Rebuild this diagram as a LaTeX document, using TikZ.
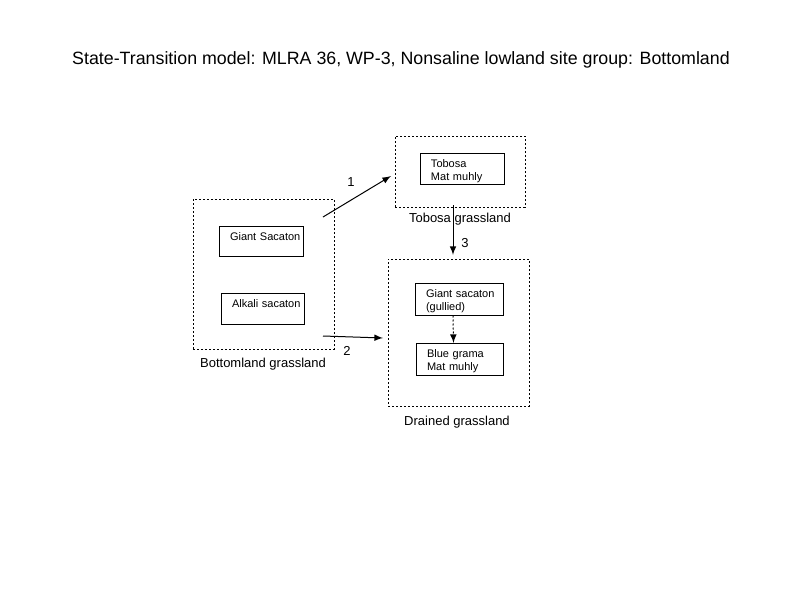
\documentclass[tikz,border=0pt]{standalone}
\usepackage{fontspec}
\setmainfont{Liberation Sans}
\usetikzlibrary{arrows}

\tikzset{
  StateStyle/.style = {draw, dash pattern=on 1pt off 1pt, line width=0.5pt, inner sep=0pt},
  PhaseStyle/.style 2 args = {draw, line width=0.5pt, align=left, inner xsep=1pt, inner ysep=0pt,
    text width=#1-2pt, text height=7.2pt, text depth=#2-7.2pt,
    execute at begin node={\leftskip=4.5pt\hyphenpenalty=10000},
    font=\fontsize{5.5}{6.5}\selectfont},
  LabelStyle/.style = {font=\fontsize{6.5}{8}\selectfont},
  TransStyle/.style = {->, >=latex, line width=0.5pt}
}

\begin{document}
\begin{tikzpicture}[x=0.5pt,y=-0.5pt]
          \fill[white] (0,0) rectangle (800,600);
          \node[font=\fontsize{8.9}{10}\selectfont] (title) at (401,60)
            {State-Transition model: MLRA 36, WP-3, Nonsaline lowland site group: Bottomland};

          % states
          \node[StateStyle, minimum width=70.5pt, minimum height=75pt]   (bottom) at (263.5,274) {};
          \node[StateStyle, minimum width=65pt,   minimum height=35.5pt] (tobosa) at (460,171.5) {};
          \node[StateStyle, minimum width=70.5pt, minimum height=73.5pt] (drained) at (458.5,332.5) {};

          \node[LabelStyle] (bottomlab) at (263,364) {Bottomland grassland};
          \node[LabelStyle] (tobosalab) at (460,219) {Tobosa grassland};
          \node[LabelStyle] (drainedlab) at (457,422) {Drained grassland};

          % communities
          \node[PhaseStyle={42pt}{15pt}] (gs) at (261,241) {Giant Sacaton};
          \node[PhaseStyle={41.5pt}{15.5pt}] (as) at (262.5,308.5) {Alkali sacaton};
          \node[PhaseStyle={42pt}{15.5pt}] (tm) at (462,168.5) {Tobosa\\Mat muhly};
          \node[PhaseStyle={44pt}{16pt}] (gg) at (459,299) {Giant sacaton\\(gullied)};
          \node[PhaseStyle={43.5pt}{16pt}] (bg) at (459.5,359.5) {Blue grama\\Mat muhly};

          \coordinate (a_1) at (323,217);
          \coordinate (b_1) at (391,176);
          \coordinate (a_2) at (323,336);
          \coordinate (b_2) at (383,338);
          \coordinate (a_3) at (453,205);
          \coordinate (b_3) at (453,255);

          % transitions
          \draw[TransStyle] (a_1) -- (b_1);
          \draw[TransStyle] (a_2) -- (b_2);
          \draw[TransStyle] (a_3) -- (b_3);
          \draw[TransStyle, dash pattern=on 1pt off 1pt] ([xshift=-3pt]gg.south) -- ([xshift=-3pt]bg.north);

          \node[LabelStyle] (n_1) at (351,182) {1};
          \node[LabelStyle] (n_2) at (347,351) {2};
          \node[LabelStyle] (n_3) at (465,243) {3};
        \end{tikzpicture}
\end{document}
